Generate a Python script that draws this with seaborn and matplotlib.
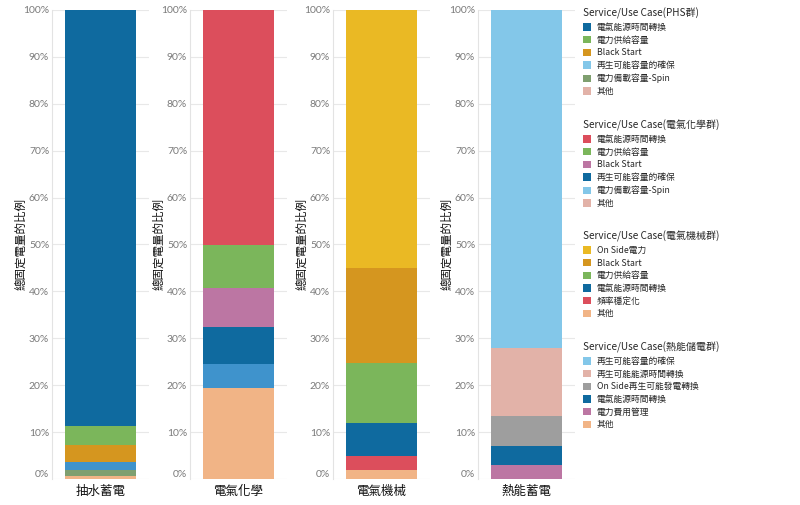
import matplotlib
matplotlib.use('Agg')
import matplotlib.pyplot as plt
from matplotlib.patches import Patch
import seaborn as sns

sns.set_style('white')
CJK = ['Noto Sans CJK TC', 'DejaVu Sans']
plt.rcParams['font.family'] = CJK

# categories (one bar per panel)
categories = ['抽水蓄電', '電氣化學', '電氣機械', '熱能蓄電']
legend_titles = ['Service/Use Case(PHS群)', 'Service/Use Case(電氣化學群)',
                 'Service/Use Case(電氣機械群)', 'Service/Use Case(熱能儲電群)']

# services, listed top of stack -> bottom
phs_labels = ['電氣能源時間轉換', '電力供給容量', 'Black Start', '再生可能容量的確保', '電力備載容量-Spin', '其他']
phs_vals = [88.7, 4.1, 3.6, 1.7, 1.3, 0.6]

chem_labels = ['電氣能源時間轉換', '電力供給容量', 'Black Start', '再生可能容量的確保', '電力備載容量-Spin', '其他']
chem_vals = [50.2, 9.1, 8.2, 8.0, 5.1, 19.4]

mech_labels = ['On Side電力', 'Black Start', '電力供給容量', '電氣能源時間轉換', '頻率穩定化', '其他']
mech_vals = [55.0, 20.3, 12.8, 7.1, 2.8, 2.0]

therm_labels = ['再生可能容量的確保', '再生可能能源時間轉換', 'On Side再生可能發電轉換', '電氣能源時間轉換', '電力費用管理', '其他']
therm_vals = [72.1, 14.4, 6.4, 4.1, 3.0, 0.0]

DBLUE = '#0f6a9f'
GREEN = '#7bb65b'
ORANGE = '#d5961f'
MBLUE = '#3f93cc'
SKY = '#83c7e9'
SPIN = '#7f9f6f'
PEACH = '#f1b486'
ROSE = '#e2b2a8'
RED = '#dc4e5c'
MAUVE = '#bc76a3'
YELLOW = '#eab924'
GRAY = '#9e9e9e'

bar_colors = [
    [DBLUE, GREEN, ORANGE, MBLUE, SPIN, PEACH],
    [RED, GREEN, MAUVE, DBLUE, MBLUE, PEACH],
    [YELLOW, ORANGE, GREEN, DBLUE, RED, PEACH],
    [SKY, ROSE, GRAY, DBLUE, MAUVE, PEACH],
]
legend_colors = [
    [DBLUE, GREEN, ORANGE, SKY, SPIN, ROSE],
    [RED, GREEN, MAUVE, DBLUE, SKY, ROSE],
    [YELLOW, ORANGE, GREEN, DBLUE, RED, PEACH],
    [SKY, ROSE, GRAY, DBLUE, MAUVE, PEACH],
]

groups = [(phs_labels, phs_vals), (chem_labels, chem_vals),
          (mech_labels, mech_vals), (therm_labels, therm_vals)]

fig = plt.figure(figsize=(8, 5.05), dpi=100)
lefts = [52, 190, 333, 478]
bottom = 1 - 479 / 505
height = (479 - 10) / 505

for i, (labels, vals) in enumerate(groups):
    ax = fig.add_axes([lefts[i] / 800, bottom, 97 / 800, height])
    # stacked bar: draw cumulative totals from the top segment down
    cum = []
    total = 0
    for v in reversed(vals):
        total += v
        cum.append(total)
    cum = list(reversed(cum))
    for c, col in zip(cum, bar_colors[i]):
        if c <= 0:
            continue
        sns.barplot(x=[categories[i]], y=[c], color=col, width=0.73,
                    saturation=1, linewidth=0, edgecolor='none', ax=ax, zorder=3)
    ax.set_ylim(0, 100)
    ax.set_yticks(range(0, 101, 10))
    ax.set_yticklabels([f'{t}%' for t in range(0, 101, 10)],
                       color='#7a7a7a', fontsize=7.5, family=['Lato', 'DejaVu Sans'])
    ax.get_yticklabels()[0].set_va('bottom')
    ax.grid(axis='y', color='#e8e8e8', linewidth=0.8, zorder=0)
    for s in ['top', 'right', 'bottom']:
        ax.spines[s].set_visible(False)
    ax.spines['left'].set_color('#e3e3e3')
    ax.spines['left'].set_linewidth(0.8)
    ax.tick_params(axis='both', length=0, pad=2)
    ax.tick_params(axis='x', pad=4)
    for t in ax.get_xticklabels():
        t.set_fontsize(9)
        t.set_color('#111111')
        t.set_family(CJK)
    ax.set_xlabel('')
    ax.set_ylabel('總固定電量的比例', fontsize=8.3, color='#111111', labelpad=-3)

# legends on the right
tops = [8, 120, 231, 342]
for i, (labels, vals) in enumerate(groups):
    handles = [Patch(facecolor=c, edgecolor='none') for c in legend_colors[i]]
    leg = fig.legend(handles=handles, labels=labels, title=legend_titles[i],
                     loc='upper left', bbox_to_anchor=(583 / 800, 1 - tops[i] / 505),
                     frameon=False, title_fontsize=7.2,
                     handlelength=0.95, handleheight=0.95, handletextpad=0.6,
                     labelspacing=0.42, borderpad=0, borderaxespad=0,
                     alignment='left', prop={'family': CJK, 'size': 6.3})
    leg.get_title().set_family(CJK)

fig.savefig('out.png', dpi=100)
